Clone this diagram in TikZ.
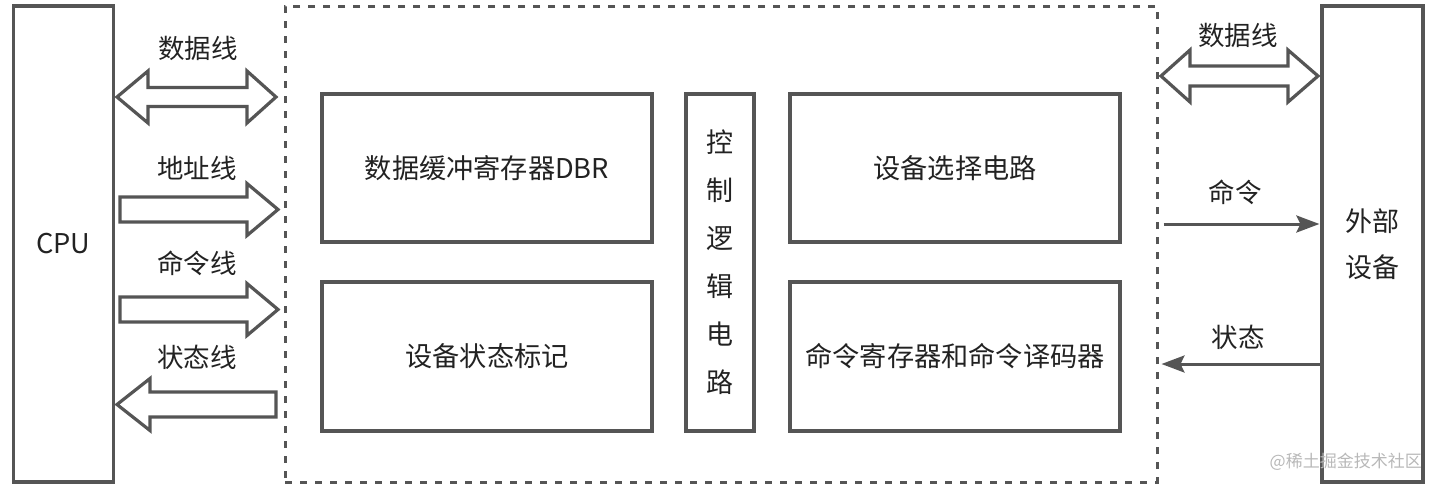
\documentclass[tikz,border=0pt]{standalone}
\usepackage{fontspec}
\setmainfont{Noto Sans CJK SC}
\usetikzlibrary{arrows.meta}
\definecolor{ln}{HTML}{555555}
\definecolor{tx}{HTML}{222222}
\begin{document}
\begin{tikzpicture}[x=1pt,y=-1pt,
  box/.style={draw=ln,line width=3.2pt,inner sep=0pt,font=\fontsize{27.2}{30}\selectfont,text=tx},
  lbl/.style={font=\fontsize{26.5}{30}\selectfont,text=tx,inner sep=0pt},
  fat/.style={draw=ln,line width=3.2pt,fill=white,line join=miter},
  thinarrow/.style={draw=ln,line width=3pt,-{Stealth[length=23pt,width=17pt,inset=4pt]}}]
\useasboundingbox (0,0) rectangle (1440,488);
% main blocks
\node[box,minimum width=100pt,minimum height=476pt] (cpu) at (63.5,244) {CPU};
\node[draw=ln,line width=3pt,dash pattern=on 7pt off 8pt,minimum width=872pt,minimum height=476pt,inner sep=0pt] (io) at (721,244) {};
\node[box,minimum width=330pt,minimum height=148pt] (dbr) at (487,168) {数据缓冲寄存器DBR};
\node[box,minimum width=330pt,minimum height=149pt] (stat) at (487,356.5) {设备状态标记};
\node[box,minimum width=68pt,minimum height=337pt] (ctrl) at (720,262.5) {};
\node[lbl,align=center,font=\fontsize{27}{48}\selectfont] (ctrltext) at (ctrl.center) {控\\制\\逻\\辑\\电\\路};
\node[box,minimum width=330pt,minimum height=148pt] (sel) at (955,168) {设备选择电路};
\node[box,minimum width=330pt,minimum height=149pt] (cmd) at (955,356.5) {命令寄存器和命令译码器};
\node[box,minimum width=101pt,minimum height=476pt,align=center,font=\fontsize{27}{46}\selectfont] (ext) at (1372.5,244) {外部\\设备};
% left labels
\node[lbl] (l1) at (198,48) {数据线};
\node[lbl] (l2) at (197,168) {地址线};
\node[lbl] (l3) at (197,263) {命令线};
\node[lbl] (l4) at (197,357) {状态线};
% right labels
\node[lbl] (r1) at (1238,35) {数据线};
\node[lbl] (r2) at (1235,192) {命令};
\node[lbl] (r3) at (1238,337) {状态};
% fat arrows, left side
\draw[fat] (117,97) -- (148,71) -- (148,87.5) -- (247,87.5) -- (247,71) -- (276,97)
  -- (247,123) -- (247,106.5) -- (148,106.5) -- (148,123) -- cycle;
\draw[fat] (120,197) -- (247,197) -- (247,183.5) -- (278,209.5) -- (247,235.5) -- (247,222) -- (120,222) -- cycle;
\draw[fat] (120,297) -- (247,297) -- (247,283.5) -- (278,309.5) -- (247,335.5) -- (247,322) -- (120,322) -- cycle;
\draw[fat] (276,392) -- (150,392) -- (150,378.5) -- (117,404.5) -- (150,430.5) -- (150,417) -- (276,417) -- cycle;
% fat arrow, right side
\draw[fat] (1161,76) -- (1190,50) -- (1190,66) -- (1288,66) -- (1288,50) -- (1318,76)
  -- (1288,102) -- (1288,86) -- (1190,86) -- (1190,102) -- cycle;
% thin arrows
\draw[thinarrow,shorten <=5pt,shorten >=1pt] (io.east |- 0,224) -- (ext.west |- 0,224);
\draw[thinarrow,shorten >=3pt] (ext.west |- 0,364) -- (io.east |- 0,364);
% watermark
\node[font=\fontsize{17}{20}\selectfont,text=black!28,anchor=east,inner sep=0pt] (wm) at (1422,462) {@稀土掘金技术社区};
\end{tikzpicture}
\end{document}
